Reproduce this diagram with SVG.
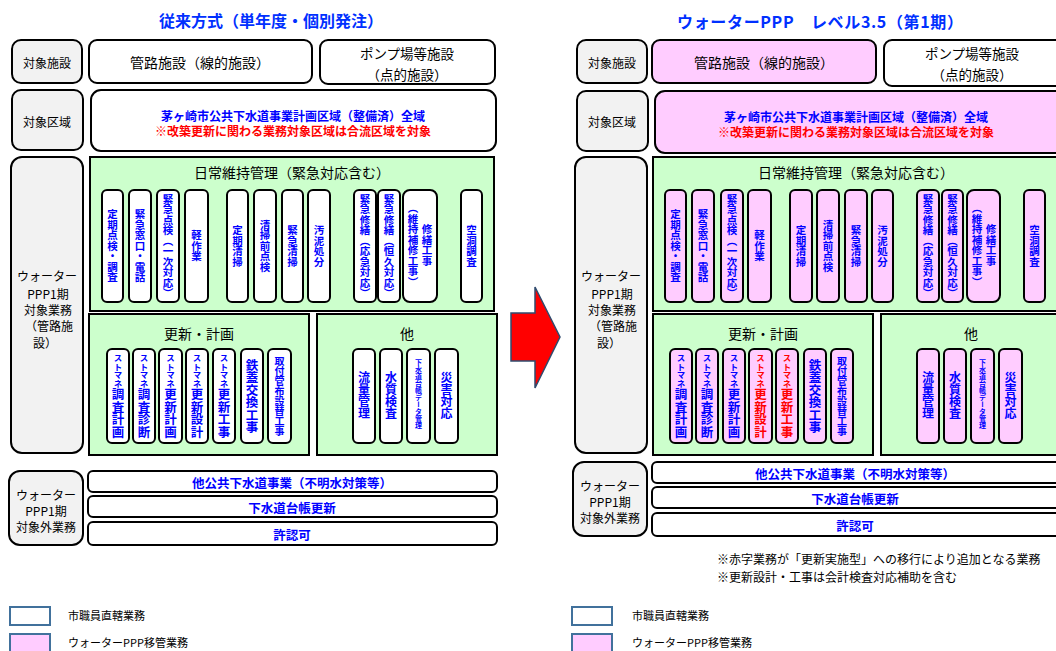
<svg xmlns="http://www.w3.org/2000/svg" width="1056" height="651" viewBox="0 0 1056 651">
<style>
text{font-family:"Noto Sans CJK JP","Noto Sans CJK SC",sans-serif;}
.h{text-anchor:middle;dominant-baseline:central}
.v{writing-mode:vertical-rl;text-anchor:middle}
.lb{fill:#f2f2f2;stroke:#000;stroke-width:2}
.wb{fill:#fff;stroke:#000;stroke-width:2}
.pk{fill:#ffccff;stroke:#000;stroke-width:2}
.gr{fill:#ccffcc;stroke:#000;stroke-width:2}
.bl{fill:#0000ff}
.rd{fill:#ff0000}
.i{font-size:10.5px;font-weight:bold}
.u{font-weight:bold}
.s{font-size:8.5px}
.g{font-size:12.5px}
.ttl{font-size:16px;font-weight:bold;fill:#0030ff}
.lt{font-size:12px;fill:#000}
.bt{font-size:14px;fill:#000}
.pt{font-size:13.5px;fill:#000}
.ot{font-size:12.5px;font-weight:bold;fill:#0000ff}
.nt{font-size:12px;fill:#000;dominant-baseline:central}
.leg{fill:#fff;stroke:#41719c;stroke-width:2}
.legp{fill:#ffccff;stroke:#41719c;stroke-width:2}
.lgt{font-size:11px;fill:#000}
</style>

<!-- ===== LEFT: conventional ===== -->
<g id="L-title"><text class="h ttl" x="271" y="20">従来方式（単年度・個別発注）</text></g>
<g id="L-facility-label"><rect class="lb" x="12" y="40" width="70" height="43" rx="9"/><text class="h lt" x="47" y="62">対象施設</text></g>
<g id="L-pipe"><rect class="wb" x="89" y="40" width="223" height="43" rx="8"/><text class="h bt" x="200" y="62">管路施設（線的施設）</text></g>
<g id="L-pump"><rect class="wb" x="320" y="40" width="175" height="44" rx="8"/><text class="h pt" x="407" y="53">ポンプ場等施設</text><text class="h pt" x="407" y="73.5">（点的施設）</text></g>
<g id="L-area-label"><rect class="lb" x="12" y="90" width="71" height="60" rx="9"/><text class="h lt" x="47" y="121">対象区域</text></g>
<g id="L-area"><rect class="wb" x="91" y="90" width="405" height="61" rx="10"/><text class="h u bl" x="293" y="115" font-size="12">茅ヶ崎市公共下水道事業計画区域（整備済）全域</text><text class="h u rd" x="293" y="130" font-size="12">※改築更新に関わる業務対象区域は合流区域を対象</text></g>
<g id="L-scope-label"><rect class="lb" x="11" y="157" width="72" height="296" rx="11"/>
<text class="h lt" x="47" y="275">ウォーター</text><text class="h lt" x="48" y="293">PPP1期</text><text class="h lt" x="48" y="309">対象業務</text><text class="h lt" x="49" y="325">（管路施</text><text class="h lt" x="45" y="342">設）</text></g>

<g id="L-daily"><rect class="gr" x="90" y="157" width="404" height="154"/><text class="h bt" x="292" y="172">日常維持管理（緊急対応含む）</text>
<g class="wb"><rect x="102" y="190" width="21" height="112" rx="5"/><rect x="129" y="190" width="22" height="112" rx="5"/><rect x="157" y="190" width="22" height="112" rx="5"/><rect x="185" y="190" width="23" height="112" rx="5"/><rect x="227" y="190" width="21" height="112" rx="5"/><rect x="254" y="190" width="22" height="112" rx="5"/><rect x="282" y="190" width="21" height="112" rx="5"/><rect x="308" y="190" width="22" height="112" rx="5"/><rect x="354" y="190" width="22" height="112" rx="5"/><rect x="378" y="190" width="22" height="112" rx="5"/><rect x="403" y="190" width="34" height="112" rx="7"/><rect x="461" y="190" width="21" height="112" rx="5"/></g>
<g class="v i bl"><text x="112.5" y="246">定期点検・調査</text><text x="140" y="246">緊急窓口・電話</text><text x="168" y="246">緊急点検（一次対応）</text><text x="196.5" y="246">軽作業</text><text x="237.5" y="246">定期清掃</text><text x="265" y="246">清掃前点検</text><text x="292.5" y="246">緊急清掃</text><text x="319" y="246">汚泥処分</text><text x="365" y="246">緊急修繕（応急対応）</text><text x="389" y="246">緊急修繕（恒久対応）</text><text x="427" y="245">修繕工事</text><text x="413" y="245">（維持補修工事）</text><text x="471.5" y="246">空洞調査</text></g>
</g>

<g id="L-renewal"><rect class="gr" x="89" y="314" width="220" height="141"/><text class="h bt" x="199" y="333">更新・計画</text>
<g class="wb"><rect x="107" y="349" width="22" height="94" rx="5"/><rect x="133" y="349" width="22" height="94" rx="5"/><rect x="159" y="349" width="23" height="94" rx="5"/><rect x="186" y="349" width="22" height="94" rx="5"/><rect x="213" y="349" width="22" height="94" rx="5"/><rect x="241" y="349" width="22" height="94" rx="5"/><rect x="268" y="349" width="23" height="94" rx="5"/></g>
<g class="v bl u"><text x="118" y="396"><tspan class="s">ストマネ</tspan><tspan class="g">調査計画</tspan></text><text x="144" y="396"><tspan class="s">ストマネ</tspan><tspan class="g">調査診断</tspan></text><text x="170.5" y="396"><tspan class="s">ストマネ</tspan><tspan class="g">更新計画</tspan></text><text x="197" y="396"><tspan class="s">ストマネ</tspan><tspan class="g">更新設計</tspan></text><text x="224" y="396"><tspan class="s">ストマネ</tspan><tspan class="g">更新工事</tspan></text><text x="252" y="396" font-size="12.5">鉄蓋交換工事</text><text x="279.5" y="396" font-size="10">取付管布設替工事</text></g>
</g>

<g id="L-other"><rect class="gr" x="317" y="314" width="180" height="141"/><text class="h bt" x="407" y="333">他</text>
<g class="wb"><rect x="353" y="349" width="22" height="94" rx="5"/><rect x="380" y="349" width="22" height="94" rx="5"/><rect x="407" y="349" width="23" height="94" rx="5"/><rect x="435" y="349" width="23" height="94" rx="5"/></g>
<g class="v bl u"><text x="364" y="395" font-size="12">流量管理</text><text x="391" y="395" font-size="12">水質検査</text><text x="418.5" y="394" font-size="7">下水道台帳データ管理</text><text x="446.5" y="395" font-size="12">災害対応</text></g>
</g>

<g id="L-out-label"><rect class="lb" x="9" y="471" width="74" height="74" rx="11"/><text class="h lt" x="46" y="494" font-size="12.5">ウォーター</text><text class="h lt" x="46" y="510" font-size="12.5">PPP1期</text><text class="h lt" x="46" y="526" font-size="12.5">対象外業務</text></g>
<g id="L-out1"><rect class="wb" x="88" y="471" width="409" height="21" rx="5"/><text class="h ot" x="292" y="482">他公共下水道事業（不明水対策等）</text></g>
<g id="L-out2"><rect class="wb" x="88" y="496" width="409" height="21" rx="5"/><text class="h ot" x="292" y="507">下水道台帳更新</text></g>
<g id="L-out3"><rect class="wb" x="88" y="522" width="409" height="23" rx="5"/><text class="h ot" x="292" y="534">許認可</text></g>

<!-- ===== connector arrow ===== -->
<g id="connectors"><polygon points="511,313 535,313 535,287 560,337 535,388 535,361 511,361" fill="#ff0000" stroke="#2f4b6e" stroke-width="1.5"/></g>

<!-- ===== RIGHT: water PPP ===== -->
<g id="R-title"><text class="h ttl" x="820" y="21" textLength="286" lengthAdjust="spacing">ウォーターPPP　レベル3.5（第1期）</text></g>
<g transform="translate(563,0)">
<g id="R-facility-label"><rect class="lb" x="14" y="40" width="70" height="43" rx="9"/><text class="h lt" x="49" y="62">対象施設</text></g>
<g id="R-pipe"><rect class="pk" x="89" y="40" width="224" height="43" rx="8"/><text class="h bt" x="201" y="62">管路施設（線的施設）</text></g>
<g id="R-pump"><rect class="wb" x="321" y="40" width="180" height="46" rx="8"/><text class="h pt" x="409" y="53">ポンプ場等施設</text><text class="h pt" x="409" y="73.5">（点的施設）</text></g>
<g id="R-area-label"><rect class="lb" x="14" y="91" width="71" height="60" rx="9"/><text class="h lt" x="49" y="121">対象区域</text></g>
<g id="R-area"><rect class="pk" x="92" y="91" width="410" height="62" rx="10"/><text class="h u bl" x="293" y="116" font-size="12">茅ヶ崎市公共下水道事業計画区域（整備済）全域</text><text class="h u rd" x="293" y="131" font-size="12">※改築更新に関わる業務対象区域は合流区域を対象</text></g>
<g id="R-scope-label"><rect class="lb" x="12" y="157" width="72" height="296" rx="11"/>
<text class="h lt" x="48" y="275">ウォーター</text><text class="h lt" x="49" y="293">PPP1期</text><text class="h lt" x="49" y="309">対象業務</text><text class="h lt" x="50" y="325">（管路施</text><text class="h lt" x="46" y="342">設）</text></g>

<g id="R-daily"><rect class="gr" x="90" y="157" width="410" height="154"/><text class="h bt" x="293" y="172">日常維持管理（緊急対応含む）</text>
<g class="pk"><rect x="102" y="190" width="21" height="112" rx="5"/><rect x="129" y="190" width="22" height="112" rx="5"/><rect x="158" y="190" width="22" height="112" rx="5"/><rect x="185" y="190" width="23" height="112" rx="5"/><rect x="227" y="190" width="22" height="112" rx="5"/><rect x="254" y="190" width="22" height="112" rx="5"/><rect x="282" y="190" width="22" height="112" rx="5"/><rect x="309" y="190" width="21" height="112" rx="5"/><rect x="354" y="190" width="22" height="112" rx="5"/><rect x="379" y="190" width="21" height="112" rx="5"/><rect x="404" y="190" width="33" height="112" rx="7"/><rect x="461" y="190" width="21" height="112" rx="5"/></g>
<g class="v i bl"><text x="112.5" y="246">定期点検・調査</text><text x="140" y="246">緊急窓口・電話</text><text x="169" y="246">緊急点検（一次対応）</text><text x="196.5" y="246">軽作業</text><text x="238" y="246">定期清掃</text><text x="265" y="246">清掃前点検</text><text x="293" y="246">緊急清掃</text><text x="319.5" y="246">汚泥処分</text><text x="365" y="246">緊急修繕（応急対応）</text><text x="389.5" y="246">緊急修繕（恒久対応）</text><text x="428" y="245">修繕工事</text><text x="414" y="245">（維持補修工事）</text><text x="471.5" y="246">空洞調査</text></g>
</g>

<g id="R-renewal"><rect class="gr" x="90" y="314" width="220" height="141"/><text class="h bt" x="200" y="333">更新・計画</text>
<g class="pk"><rect x="107" y="349" width="22" height="94" rx="5"/><rect x="133" y="349" width="22" height="94" rx="5"/><rect x="160" y="349" width="22" height="94" rx="5"/><rect x="186" y="349" width="23" height="94" rx="5"/><rect x="213" y="349" width="22" height="94" rx="5"/><rect x="241" y="349" width="22" height="94" rx="5"/><rect x="268" y="349" width="22" height="94" rx="5"/></g>
<g class="v u"><text class="bl" x="118" y="396"><tspan class="s">ストマネ</tspan><tspan class="g">調査計画</tspan></text><text class="bl" x="144" y="396"><tspan class="s">ストマネ</tspan><tspan class="g">調査診断</tspan></text><text class="bl" x="171" y="396"><tspan class="s">ストマネ</tspan><tspan class="g">更新計画</tspan></text><text class="rd" x="197.5" y="396"><tspan class="s">ストマネ</tspan><tspan class="g">更新設計</tspan></text><text class="rd" x="224" y="396"><tspan class="s">ストマネ</tspan><tspan class="g">更新工事</tspan></text><text class="bl" x="252" y="396" font-size="12.5">鉄蓋交換工事</text><text class="bl" x="279" y="396" font-size="10">取付管布設替工事</text></g>
</g>

<g id="R-other"><rect class="gr" x="318" y="314" width="184" height="141"/><text class="h bt" x="408" y="333">他</text>
<g class="pk"><rect x="354" y="349" width="22" height="94" rx="5"/><rect x="381" y="349" width="22" height="94" rx="5"/><rect x="408" y="349" width="23" height="94" rx="5"/><rect x="436" y="349" width="23" height="94" rx="5"/></g>
<g class="v bl u"><text x="365" y="395" font-size="12">流量管理</text><text x="392" y="395" font-size="12">水質検査</text><text x="419.5" y="394" font-size="7">下水道台帳データ管理</text><text x="447.5" y="395" font-size="12">災害対応</text></g>
</g>
</g>

<g transform="translate(564,-9)">
<g id="R-out-label"><rect class="lb" x="9" y="471" width="74" height="74" rx="11"/><text class="h lt" x="46" y="494" font-size="12.5">ウォーター</text><text class="h lt" x="46" y="510" font-size="12.5">PPP1期</text><text class="h lt" x="46" y="526" font-size="12.5">対象外業務</text></g>
<g id="R-out1"><rect class="wb" x="88" y="471" width="409" height="21" rx="5"/><text class="h ot" x="291" y="482">他公共下水道事業（不明水対策等）</text></g>
<g id="R-out2"><rect class="wb" x="88" y="496" width="409" height="21" rx="5"/><text class="h ot" x="291" y="507">下水道台帳更新</text></g>
<g id="R-out3"><rect class="wb" x="88" y="522" width="409" height="23" rx="5"/><text class="h ot" x="291" y="534">許認可</text></g>
</g>

<g id="R-notes">
<text class="nt" x="717" y="558">※</text><text class="nt rd" x="729" y="558">赤字業務</text><text class="nt" x="777" y="558">が「</text><text class="nt rd" x="801" y="558">更新実施型</text><text class="nt" x="861" y="558">」への移行により追加となる業務</text>
<text class="nt" x="717" y="576">※</text><text class="nt rd" x="729" y="576">更新設計・工事</text><text class="nt" x="813" y="576">は会計検査対応補助を含む</text>
</g>

<!-- ===== legends ===== -->
<g id="L-legend"><rect class="leg" x="10" y="607" width="40" height="18"/><text class="lgt" x="68" y="620">市職員直轄業務</text><rect class="legp" x="10" y="634" width="40" height="18"/><text class="lgt" x="68" y="647">ウォーターPPP移管業務</text></g>
<g id="R-legend"><rect class="leg" x="572" y="607" width="40" height="18"/><text class="lgt" x="632" y="620">市職員直轄業務</text><rect class="legp" x="572" y="634" width="40" height="18"/><text class="lgt" x="632" y="647">ウォーターPPP移管業務</text></g>
</svg>
